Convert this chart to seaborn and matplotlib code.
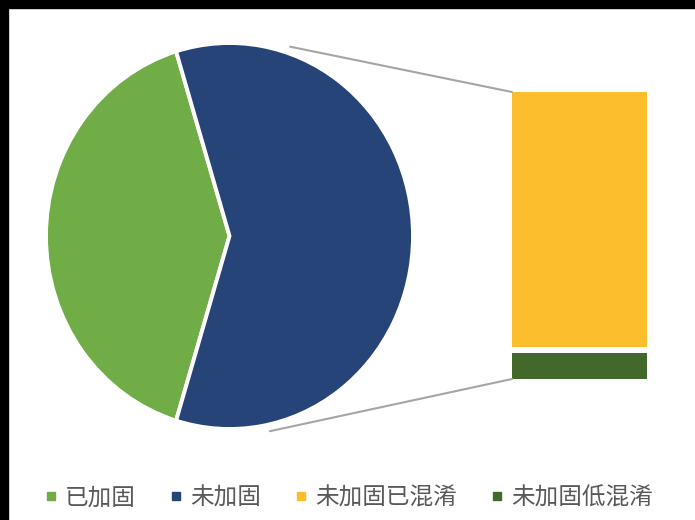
import matplotlib
matplotlib.use("Agg")
import numpy as np
import pandas as pd
import matplotlib.pyplot as plt
import seaborn as sns
from matplotlib.patches import ConnectionPatch, Rectangle
from matplotlib.lines import Line2D

# ---- data ----
pie_labels = ["已加固", "未加固"]
reinforced_value = [40.6]
sub_labels = ["未加固已混淆", "未加固低混淆"]
sub_values = [53.4, 6.0]

legend_labels = ["已加固", "未加固", "未加固已混淆", "未加固低混淆"]

# ---- style ----
GREEN = "#70AD47"
BLUE = "#264478"
YELLOW = "#FCBE2D"
DKGREEN = "#43682B"
LINE_GRAY = "#A5A5A5"
TEXT_GRAY = "#595959"

sns.set_theme(style="white")
plt.rcParams['font.family'] = ['Noto Sans CJK SC', 'DejaVu Sans']

W, H = 695, 520
fig = plt.figure(figsize=(W / 100, H / 100), dpi=100)
fig.patch.set_facecolor("white")


def box(l, t, r, b):
    return [l / W, 1 - b / H, (r - l) / W, (b - t) / H]


# ---- pie ----
ax_pie = fig.add_axes(box(46, 43, 413, 429))
pie_vals = [reinforced_value[0], sum(sub_values)]
start = 180 - 360 * pie_vals[0] / sum(pie_vals) / 2
ax_pie.pie(pie_vals, colors=[GREEN, BLUE], startangle=start, radius=1,
           wedgeprops=dict(edgecolor="white", linewidth=2.8))
ax_pie.set_aspect("auto")
ax_pie.set_xlim(-1, 1)
ax_pie.set_ylim(-1, 1)
ax_pie.axis("off")

# ---- stacked bar for the split ----
ax_bar = fig.add_axes(box(512, 92, 647, 379))
total = sum(sub_values)
df_total = pd.DataFrame({"g": ["未加固"], "v": [total]})
df_low = pd.DataFrame({"g": ["未加固"], "v": [sub_values[1]]})
sns.barplot(data=df_total, x="g", y="v", color=YELLOW, width=1, saturation=1,
            errorbar=None, linewidth=0, ax=ax_bar)
sns.barplot(data=df_low, x="g", y="v", color=DKGREEN, width=1, saturation=1,
            errorbar=None, linewidth=0, ax=ax_bar)
ax_bar.axhline(sub_values[1], color="white", lw=4.3)
ax_bar.set_xlim(-0.5, 0.5)
ax_bar.set_ylim(0, total)
ax_bar.axis("off")

# ---- connector lines ----
for ang, corner in [(71.4, (0, 1)), (-77.7, (0, 0))]:
    r = 1.035
    a = np.deg2rad(ang)
    con = ConnectionPatch(xyA=(r * np.cos(a), r * np.sin(a)), coordsA=ax_pie.transData,
                          xyB=corner, coordsB=ax_bar.transAxes,
                          color=LINE_GRAY, lw=1.5)
    fig.add_artist(con)

# ---- legend ----
handles = [Line2D([], [], marker="s", linestyle="none", markersize=5.5, color=c)
           for c in [GREEN, BLUE, YELLOW, DKGREEN]]
fig.legend(handles, legend_labels, loc="center", bbox_to_anchor=(348 / W, 1 - 498 / H),
           ncol=4, frameon=False, fontsize=17, handlelength=0.7, handletextpad=0.25,
           columnspacing=1.35, labelcolor=TEXT_GRAY)

# ---- black frame strips (top & left) ----
fig.add_artist(Rectangle((0, 1 - 8 / H), 1, 8 / H, transform=fig.transFigure,
                         color="black", zorder=10))
fig.add_artist(Rectangle((0, 0), 8 / W, 1, transform=fig.transFigure,
                         color="black", zorder=10))

fig.savefig("out.png", dpi=100)
